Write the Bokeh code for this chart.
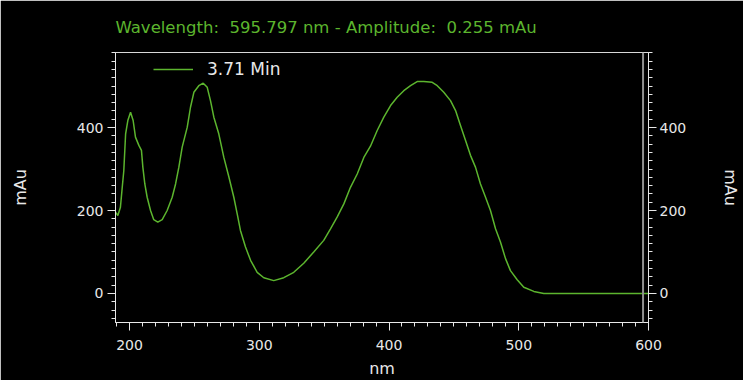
from bokeh.plotting import figure
from bokeh.models import Range1d, LinearAxis, Span, Legend, LegendItem, SingleIntervalTicker
from bokeh.embed import file_html
from bokeh.resources import INLINE

# ---- data ----
wavelength_nm = [189.2, 191, 193, 194.4, 195.6, 197, 198.7, 200.8, 202.8, 204.6, 207.2, 209.2,
                 210.3, 211.8, 213.6, 216.2, 218.7, 221.8, 225.2, 229, 232.9, 235.5, 238, 240.6,
                 244.5, 247, 249.6, 253.4, 256.8, 259.9, 262.4, 265, 268.8, 272.7, 276.5, 280.4,
                 283, 285.5, 289.4, 293.3, 298.4, 303.5, 311.2, 318.9, 326.6, 334.3, 342, 349.7,
                 354.9, 360, 365.2, 370.3, 375.5, 380.6, 385.7, 390.9, 396, 401.2, 406.3, 411.4,
                 416.6, 421.7, 426.8, 433.3, 437.2, 442.2, 447.4, 451.3, 455.1, 459, 462.8, 466.7,
                 470.5, 474.4, 478.2, 482.1, 485.9, 489.8, 493.6, 498.8, 503.9, 511.6, 519.3,
                 540, 560, 580, 600]
amplitude_mau = [196, 188, 208, 256, 296, 385, 417, 437, 417, 377, 357, 345,
                 304, 264, 232, 200, 178, 172, 178, 200, 232, 264, 304, 353,
                 401, 449, 485, 501, 507, 497, 465, 425, 385, 328, 282, 232,
                 192, 152, 112, 80, 51, 38, 31, 38, 51, 73, 100, 128,
                 156, 184, 216, 256, 288, 328, 355, 393, 425, 453, 473, 489,
                 501, 511, 511, 509, 501, 485, 465, 441, 405, 369, 333, 304,
                 264, 232, 200, 156, 124, 84, 55, 33, 15, 5, 0,
                 0, 0, 0, 0]
series_label = "3.71 Min"
cursor_nm = 595.797
cursor_amp = 0.255

GREEN = "#5cb52e"
TEXT = "#e8e8e8"
FONT = "DejaVu Sans"

p = figure(output_backend="svg", toolbar_location=None,
           width=740, height=379,
           x_range=Range1d(189.2, 600), y_range=Range1d(-70, 581),
           min_border_left=115, min_border_right=92, min_border_top=52, min_border_bottom=57,
           background_fill_color="black", border_fill_color="black",
           outline_line_color="#d8d8d8", outline_line_width=1)
p.frame_width = 533
p.frame_height = 270

p.title.text = f"Wavelength:\u00a0 {cursor_nm} nm - Amplitude:\u00a0 {cursor_amp} mAu"
p.title.text_color = GREEN
p.title.text_font = FONT
p.title.text_font_style = "normal"
p.title.text_font_size = "16.5px"
p.title.align = "left"
p.title.standoff = 31

p.grid.visible = False

def style_axis(ax):
    ax.axis_line_color = TEXT
    ax.axis_line_width = 1
    ax.major_tick_line_color = TEXT
    ax.major_tick_line_width = 1
    ax.minor_tick_line_color = TEXT
    ax.minor_tick_line_width = 1
    ax.major_tick_in = 0
    ax.minor_tick_in = 0
    ax.major_tick_out = 8
    ax.minor_tick_out = 4
    ax.major_label_text_color = TEXT
    ax.major_label_text_font = FONT
    ax.major_label_text_font_size = "14px"
    ax.axis_label_text_color = TEXT
    ax.axis_label_text_font = FONT
    ax.axis_label_text_font_size = "16px"
    ax.axis_label_text_font_style = "normal"

xa = p.xaxis[0]
xa.ticker = SingleIntervalTicker(interval=100, num_minor_ticks=10)
xa.axis_label = "nm"
xa.major_label_standoff = 9
xa.axis_label_standoff = 6
style_axis(xa)

ya = p.yaxis[0]
ya.ticker = SingleIntervalTicker(interval=200, num_minor_ticks=10)
ya.axis_label = "mAu"
ya.major_label_standoff = 4
ya.axis_label_standoff = 44
style_axis(ya)

ra = LinearAxis(ticker=SingleIntervalTicker(interval=200, num_minor_ticks=10), axis_label="mAu")
ra.major_label_standoff = 3
ra.axis_label_standoff = 32
style_axis(ra)
p.add_layout(ra, "right")

p.add_layout(Span(location=cursor_nm, dimension="height", line_color="#909090", line_width=2))

r = p.line(wavelength_nm, amplitude_mau, line_color=GREEN, line_width=1.5)

legend = Legend(items=[LegendItem(label=series_label, renderers=[r])],
                location=(38, 243), background_fill_alpha=0, border_line_alpha=0,
                padding=0, margin=0, glyph_width=40, glyph_height=16, label_height=16,
                label_standoff=14, label_text_color=TEXT, label_text_font=FONT,
                label_text_font_size="17px")
p.add_layout(legend, "center")

open("out.html", "w").write(file_html(p, INLINE))
